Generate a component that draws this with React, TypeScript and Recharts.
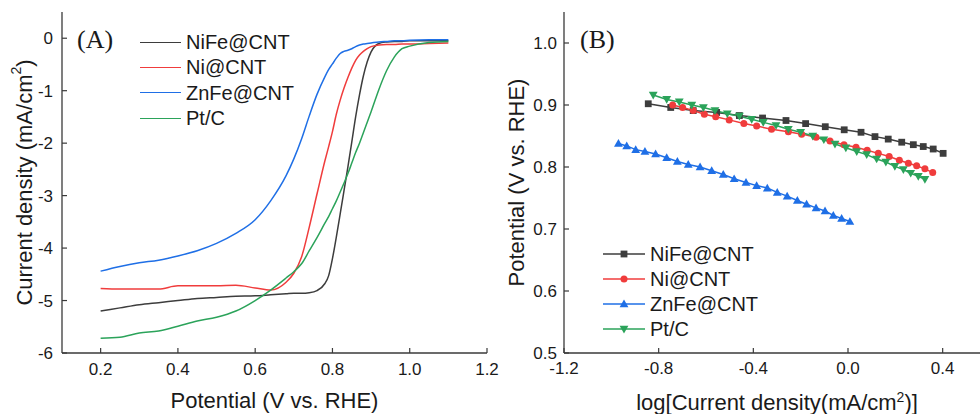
import React from 'react';
import { LineChart, Line, XAxis, YAxis, Legend, Label } from 'recharts';

const FONT = '"Liberation Sans", Arial, sans-serif';
const SERIF = '"Liberation Serif", "Times New Roman", serif';
const AXIS = '#3a3a3a';
const TEXT = '#1a1a1a';

const seriesNames = ['NiFe@CNT', 'Ni@CNT', 'ZnFe@CNT', 'Pt/C'];
const seriesKeys = ['nife', 'ni', 'znfe', 'ptc'];
const seriesColors = ['#3d3d3d', '#f03c3c', '#1f6fe6', '#2ba35a'];
const seriesShapes = ['square', 'circle', 'up', 'down'];

// Panel A: LSV curves
const potentials = [0.2, 0.25, 0.3, 0.35, 0.4, 0.45, 0.5, 0.55, 0.6, 0.64, 0.68, 0.7, 0.72, 0.74, 0.76, 0.78, 0.79, 0.8, 0.81, 0.82, 0.83, 0.84, 0.85, 0.86, 0.87, 0.88, 0.89, 0.9, 0.92, 0.94, 0.96, 0.98, 1.0, 1.05, 1.1];
const nifeLsv = [-5.2, -5.14, -5.08, -5.04, -5.0, -4.96, -4.94, -4.92, -4.91, -4.89, -4.87, -4.86, -4.86, -4.85, -4.81, -4.68, -4.53, -4.2, -3.79, -3.35, -2.9, -2.45, -1.98, -1.5, -1.08, -0.72, -0.45, -0.26, -0.1, -0.07, -0.06, -0.06, -0.05, -0.05, -0.05];
const niLsv = [-4.77, -4.78, -4.78, -4.78, -4.72, -4.72, -4.72, -4.71, -4.76, -4.8, -4.65, -4.48, -4.17, -3.6, -2.97, -2.35, -2.07, -1.78, -1.45, -1.18, -0.95, -0.75, -0.57, -0.42, -0.32, -0.25, -0.2, -0.16, -0.13, -0.12, -0.12, -0.11, -0.11, -0.1, -0.09];
const znfeLsv = [-4.44, -4.35, -4.28, -4.23, -4.15, -4.05, -3.91, -3.72, -3.46, -3.1, -2.62, -2.3, -1.92, -1.48, -1.07, -0.74, -0.6, -0.49, -0.38, -0.29, -0.25, -0.23, -0.2, -0.16, -0.13, -0.11, -0.1, -0.09, -0.07, -0.06, -0.05, -0.05, -0.04, -0.03, -0.03];
const ptcLsv = [-5.72, -5.7, -5.62, -5.58, -5.49, -5.39, -5.32, -5.2, -5.0, -4.8, -4.57, -4.45, -4.3, -4.05, -3.8, -3.53, -3.4, -3.25, -3.1, -2.93, -2.76, -2.58, -2.38, -2.18, -2.0, -1.8, -1.6, -1.4, -0.98, -0.62, -0.36, -0.2, -0.15, -0.08, -0.06];

const aXTicks = [0.2, 0.4, 0.6, 0.8, 1.0, 1.2];
const aXMinor = [0.3, 0.5, 0.7, 0.9, 1.1];
const aYTicks = [-6, -5, -4, -3, -2, -1, 0];
const aYMinor = [-5.5, -4.5, -3.5, -2.5, -1.5, -0.5];

// Panel B: Tafel plots
const nifeLogJ = [-0.844, -0.749, -0.654, -0.555, -0.459, -0.361, -0.262, -0.179, -0.096, -0.016, 0.055, 0.114, 0.17, 0.227, 0.276, 0.318, 0.36, 0.402];
const nifeE = [0.902, 0.896, 0.891, 0.888, 0.883, 0.879, 0.875, 0.87, 0.865, 0.86, 0.856, 0.849, 0.845, 0.84, 0.836, 0.833, 0.829, 0.822];
const niLogJ = [-0.741, -0.699, -0.654, -0.607, -0.559, -0.502, -0.44, -0.386, -0.323, -0.252, -0.196, -0.135, -0.076, -0.017, 0.034, 0.081, 0.128, 0.174, 0.217, 0.255, 0.29, 0.325, 0.358];
const niE = [0.9, 0.896, 0.891, 0.885, 0.881, 0.876, 0.87, 0.866, 0.861, 0.857, 0.853, 0.848, 0.842, 0.836, 0.832, 0.827, 0.822, 0.817, 0.811, 0.806, 0.802, 0.797, 0.791];
const znfeLogJ = [-0.97, -0.935, -0.897, -0.858, -0.813, -0.766, -0.721, -0.675, -0.625, -0.576, -0.527, -0.481, -0.431, -0.386, -0.341, -0.299, -0.257, -0.214, -0.175, -0.135, -0.097, -0.062, -0.027, 0.008];
const znfeE = [0.838, 0.834, 0.828, 0.825, 0.821, 0.815, 0.809, 0.804, 0.8, 0.794, 0.788, 0.781, 0.775, 0.77, 0.766, 0.759, 0.753, 0.746, 0.74, 0.734, 0.729, 0.722, 0.717, 0.712];
const ptcLogJ = [-0.823, -0.766, -0.713, -0.66, -0.611, -0.562, -0.51, -0.459, -0.407, -0.358, -0.304, -0.252, -0.2, -0.149, -0.102, -0.055, -0.009, 0.037, 0.079, 0.121, 0.16, 0.198, 0.234, 0.265, 0.297, 0.325];
const ptcE = [0.916, 0.909, 0.905, 0.9, 0.896, 0.891, 0.886, 0.882, 0.877, 0.872, 0.867, 0.861, 0.856, 0.85, 0.844, 0.837, 0.831, 0.825, 0.82, 0.813, 0.808, 0.801, 0.796, 0.79, 0.785, 0.78];

const bXTicks = [-1.2, -0.8, -0.4, 0.0, 0.4];
const bXMinor = [-1.0, -0.6, -0.2, 0.2];
const bYTicks = [0.5, 0.6, 0.7, 0.8, 0.9, 1.0];
const bYMinor = [0.55, 0.65, 0.75, 0.85, 0.95];

const lsvData = potentials.map((p, i) => ({
  p,
  nife: nifeLsv[i],
  ni: niLsv[i],
  znfe: znfeLsv[i],
  ptc: ptcLsv[i],
}));

const zip = (xs: number[], ys: number[]) => xs.map((x, i) => ({ x, y: ys[i] }));
const tafelData = [zip(nifeLogJ, nifeE), zip(niLogJ, niE), zip(znfeLogJ, znfeE), zip(ptcLogJ, ptcE)];

const tickStyle = { fill: TEXT, fontSize: 17, fontFamily: FONT };

function MarkerShape({ shape, cx, cy, color }: { shape: string; cx: number; cy: number; color: string }) {
  if (cx == null || cy == null) return null;
  if (shape === 'square') return <rect x={cx - 3.4} y={cy - 3.4} width={6.8} height={6.8} fill={color} />;
  if (shape === 'circle') return <circle cx={cx} cy={cy} r={3.5} fill={color} />;
  const s = 4.4;
  if (shape === 'up')
    return <polygon points={`${cx},${cy - s} ${cx - s},${cy + s * 0.75} ${cx + s},${cy + s * 0.75}`} fill={color} />;
  return <polygon points={`${cx},${cy + s} ${cx - s},${cy - s * 0.75} ${cx + s},${cy - s * 0.75}`} fill={color} />;
}

const xTitle = (content: React.ReactNode, below: number) => (props: any) => {
  const vb = props.viewBox || {};
  return (
    <text x={vb.x + vb.width / 2} y={vb.y + vb.height + below} textAnchor="middle" fill={TEXT} fontSize={22} fontFamily={FONT}>
      {content}
    </text>
  );
};

const yTitle = (content: React.ReactNode, left: number) => (props: any) => {
  const vb = props.viewBox || {};
  const x = vb.x + left;
  const y = vb.y + vb.height / 2;
  return (
    <text x={x} y={y} transform={`rotate(-90, ${x}, ${y})`} textAnchor="middle" dominantBaseline="central" fill={TEXT} fontSize={22} fontFamily={FONT}>
      {content}
    </text>
  );
};

const sup2 = (
  <>
    <tspan dy={-8} fontSize={14}>2</tspan>
    <tspan dy={8}>)</tspan>
  </>
);

const legendA = () => (
  <div style={{ fontFamily: FONT, fontSize: 20, color: TEXT }}>
    {seriesNames.map((n, i) => (
      <div key={n} style={{ display: 'flex', alignItems: 'center', height: 25.3 }}>
        <div style={{ width: 41, borderTop: `1.6px solid ${seriesColors[i]}`, marginRight: 5 }} />
        <span style={{ lineHeight: '22px' }}>{n}</span>
      </div>
    ))}
  </div>
);

const legendB = () => (
  <div style={{ fontFamily: FONT, fontSize: 20, color: TEXT }}>
    {seriesNames.map((n, i) => (
      <div key={n} style={{ display: 'flex', alignItems: 'center', height: 25 }}>
        <svg width={42} height={12} style={{ marginRight: 5, display: 'block' }}>
          <line x1={0} y1={6} x2={42} y2={6} stroke={seriesColors[i]} strokeWidth={1.6} />
          <MarkerShape shape={seriesShapes[i]} cx={21} cy={6} color={seriesColors[i]} />
        </svg>
        <span style={{ lineHeight: '22px' }}>{n}</span>
      </div>
    ))}
  </div>
);

export default function App() {
  return (
    <div style={{ position: 'absolute', left: 0, top: 0, width: 980, height: 414, overflow: 'hidden', background: '#fff' }}>
      <div style={{ position: 'absolute', left: 0, top: 0 }}>
        <LineChart width={500} height={414} data={lsvData} margin={{ top: 12, right: 13, bottom: 31, left: 0 }}>
          <XAxis xAxisId="minor" type="number" dataKey="p" domain={[0.1, 1.2]} allowDataOverflow ticks={aXMinor} height={0} tick={false} axisLine={false} tickSize={-3} tickLine={{ stroke: AXIS, strokeWidth: 1.2 }} />
          <XAxis type="number" dataKey="p" domain={[0.1, 1.2]} allowDataOverflow ticks={aXTicks} height={30} tick={tickStyle} tickFormatter={(v: number) => v.toFixed(1)} tickSize={-5} tickMargin={15} axisLine={{ stroke: AXIS, strokeWidth: 1.3 }} tickLine={{ stroke: AXIS, strokeWidth: 1.2 }}>
            <Label content={xTitle('Potential (V vs. RHE)', 25)} />
          </XAxis>
          <XAxis xAxisId="top" orientation="top" type="number" dataKey="p" domain={[0.1, 1.2]} allowDataOverflow height={0} tick={false} tickLine={false} axisLine={{ stroke: AXIS, strokeWidth: 1.3 }} />
          <YAxis yAxisId="minor" type="number" domain={[-6, 0.5]} allowDataOverflow ticks={aYMinor} width={0} tick={false} axisLine={false} tickSize={-3} tickLine={{ stroke: AXIS, strokeWidth: 1.2 }} />
          <YAxis type="number" domain={[-6, 0.5]} allowDataOverflow ticks={aYTicks} width={62} tick={tickStyle} tickSize={-5} tickMargin={14} axisLine={{ stroke: AXIS, strokeWidth: 1.3 }} tickLine={{ stroke: AXIS, strokeWidth: 1.2 }}>
            <Label content={yTitle(<>Current density (mA/cm{sup2}</>, 24)} />
          </YAxis>
          <YAxis yAxisId="right" orientation="right" type="number" domain={[-6, 0.5]} allowDataOverflow width={0} tick={false} tickLine={false} axisLine={{ stroke: AXIS, strokeWidth: 1.3 }} />
          {seriesKeys.map((k, i) => (
            <Line key={k} dataKey={k} name={seriesNames[i]} type="monotone" stroke={seriesColors[i]} strokeWidth={1.5} dot={false} isAnimationActive={false} />
          ))}
          <Legend layout="vertical" align="center" verticalAlign="middle" content={legendA} wrapperStyle={{ left: 140, top: 29.5, width: 'auto', height: 'auto' }} />
          <text x={77} y={48} fontFamily={SERIF} fontSize={26} fill={TEXT}>(A)</text>
        </LineChart>
      </div>
      <div style={{ position: 'absolute', left: 490, top: 0 }}>
        <LineChart width={510} height={414} margin={{ top: 12, right: 10, bottom: 31, left: 0 }}>
          <XAxis xAxisId="minor" type="number" dataKey="x" domain={[-1.2, 0.6]} allowDataOverflow ticks={bXMinor} height={0} tick={false} axisLine={false} tickSize={-3} tickLine={{ stroke: AXIS, strokeWidth: 1.2 }} />
          <XAxis type="number" dataKey="x" domain={[-1.2, 0.6]} allowDataOverflow ticks={bXTicks} height={30} tick={tickStyle} tickFormatter={(v: number) => v.toFixed(1)} tickSize={-5} tickMargin={14} axisLine={{ stroke: AXIS, strokeWidth: 1.3 }} tickLine={{ stroke: AXIS, strokeWidth: 1.2 }}>
            <Label content={xTitle(<>log[Current density(mA/cm<tspan dy={-8} fontSize={14}>2</tspan><tspan dy={8}>)]</tspan></>, 27)} />
          </XAxis>
          <XAxis xAxisId="top" orientation="top" type="number" dataKey="x" domain={[-1.2, 0.6]} allowDataOverflow height={0} tick={false} tickLine={false} axisLine={{ stroke: AXIS, strokeWidth: 1.3 }} />
          <YAxis yAxisId="minor" type="number" domain={[0.5, 1.05]} allowDataOverflow ticks={bYMinor} width={0} tick={false} axisLine={false} tickSize={-3} tickLine={{ stroke: AXIS, strokeWidth: 1.2 }} />
          <YAxis type="number" dataKey="y" domain={[0.5, 1.05]} allowDataOverflow ticks={bYTicks} width={74} tick={tickStyle} tickFormatter={(v: number) => v.toFixed(1)} tickSize={-5} tickMargin={12} axisLine={{ stroke: AXIS, strokeWidth: 1.3 }} tickLine={{ stroke: AXIS, strokeWidth: 1.2 }}>
            <Label content={yTitle('Potential (V vs. RHE)', 26)} />
          </YAxis>
          <YAxis yAxisId="right" orientation="right" type="number" domain={[0.5, 1.05]} allowDataOverflow width={0} tick={false} tickLine={false} axisLine={{ stroke: AXIS, strokeWidth: 1.3 }} />
          {seriesKeys.map((k, i) => (
            <Line
              key={k}
              data={tafelData[i]}
              dataKey="y"
              name={seriesNames[i]}
              type="linear"
              stroke={seriesColors[i]}
              strokeWidth={1.5}
              isAnimationActive={false}
              dot={(p: any) => <MarkerShape key={`${k}-${p.index}`} shape={seriesShapes[i]} cx={p.cx} cy={p.cy} color={seriesColors[i]} />}
              activeDot={false}
            />
          ))}
          <Legend layout="vertical" align="center" verticalAlign="middle" content={legendB} wrapperStyle={{ left: 113, top: 241.5, width: 'auto', height: 'auto' }} />
          <text x={90} y={48} fontFamily={SERIF} fontSize={26} fill={TEXT}>(B)</text>
        </LineChart>
      </div>
    </div>
  );
}
